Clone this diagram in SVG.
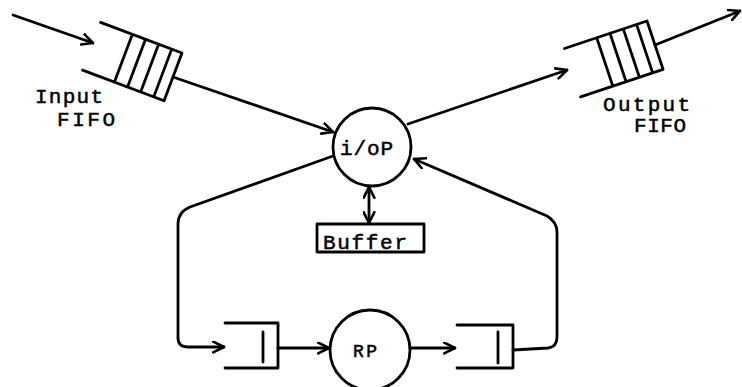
<svg xmlns="http://www.w3.org/2000/svg" width="742" height="387" viewBox="0 0 742 387">
<style>
.ln{fill:none;stroke:#000;stroke-width:2.8;stroke-linecap:round;stroke-linejoin:round}
.tx{font-family:"Liberation Mono","DejaVu Sans Mono",monospace;font-size:21px;fill:#000;stroke:#000;stroke-width:0.5}
</style>
<defs>
<marker id="ah" viewBox="0 0 12 12" refX="11" refY="6" markerWidth="13" markerHeight="13" markerUnits="userSpaceOnUse" orient="auto-start-reverse">
<path d="M1,1 L11,6 L1,11" fill="none" stroke="#000" stroke-width="2.4" stroke-linecap="round" stroke-linejoin="round"/>
</marker>
<g id="fifo-sym">
<path class="ln" d="M-87,0 L0,0 L0,51 L-87,51 M-53,0 L-53,51 M-39,0 L-39,51 M-25,0 L-25,51 M-11,0 L-11,51"/>
</g>
</defs>
<rect width="742" height="387" fill="#fff"/>

<g id="input-fifo">
<use href="#fifo-sym" transform="translate(182,53) rotate(20.6)"/>
<text class="tx" x="35" y="103" textLength="68">Input</text>
<text class="tx" x="57" y="126" textLength="58">FIFO</text>
</g>

<g id="output-fifo">
<use href="#fifo-sym" transform="translate(647,21) rotate(-18.4)"/>
<text class="tx" x="603" y="111" textLength="87">Output</text>
<text class="tx" x="634" y="132" textLength="52">FIFO</text>
</g>

<g id="iop">
<circle class="ln" cx="372" cy="147" r="39"/>
<text class="tx" x="340" y="155" textLength="53">i/oP</text>
</g>

<g id="buffer">
<rect class="ln" x="317" y="224" width="107" height="28"/>
<text class="tx" x="323" y="249" textLength="84">Buffer</text>
</g>

<g id="rp">
<circle class="ln" cx="370" cy="350" r="40"/>
<text class="tx" x="353" y="357" textLength="24" style="font-size:18px">RP</text>
</g>

<g id="left-queue">
<path class="ln" d="M225,323 L278,323 L278,368 L225,368 M263,332 L263,362"/>
</g>

<g id="right-queue">
<path class="ln" d="M457,325 L513,325 L513,368 L457,368 M498,332 L498,363"/>
</g>

<g id="connectors">
<path class="ln" d="M13,15 L93,43" marker-end="url(#ah)"/>
<path class="ln" d="M173,77 L333,132" marker-end="url(#ah)"/>
<path class="ln" d="M408,124 L567,70" marker-end="url(#ah)"/>
<path class="ln" d="M655,45 L740,11" marker-end="url(#ah)"/>
<path class="ln" d="M369,187 L369,223" marker-start="url(#ah)" marker-end="url(#ah)"/>
<path class="ln" d="M333,156 L190,207 Q178,212 178,224 L178,338 Q178,347 188,347 L224,347" marker-end="url(#ah)"/>
<path class="ln" d="M278,348 L329,348" marker-end="url(#ah)"/>
<path class="ln" d="M410,348 L455,348" marker-end="url(#ah)"/>
<path class="ln" d="M513,350 L548,348 Q557,347 557,337 L557,232 Q557,222 547,216 L414,159" marker-end="url(#ah)"/>
</g>
</svg>
